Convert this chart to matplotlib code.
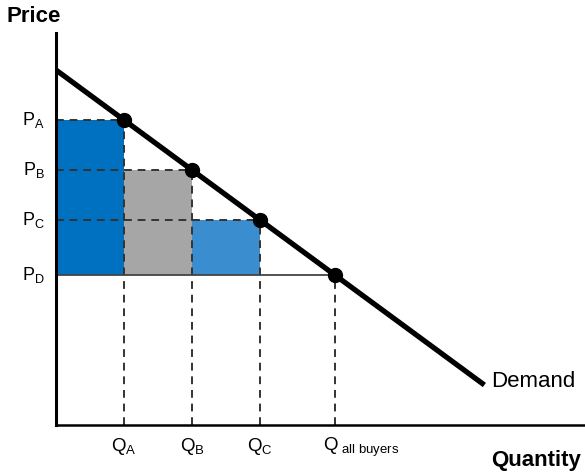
import matplotlib
matplotlib.use("Agg")
import matplotlib.pyplot as plt

plt.rcParams['font.family'] = ['Liberation Sans', 'DejaVu Sans']
plt.rcParams['mathtext.fontset'] = 'custom'
plt.rcParams['mathtext.rm'] = 'Liberation Sans'
plt.rcParams['mathtext.it'] = 'Liberation Sans'

# Data
quantities = [1.0, 2.0, 3.0, 4.1]
prices = [6.1, 5.1, 4.1, 3.0]
q_labels = [r'Q$_\mathrm{A}$', r'Q$_\mathrm{B}$', r'Q$_\mathrm{C}$', r'Q$_\mathrm{\ all\ buyers}$']
p_labels = [r'P$_\mathrm{A}$', r'P$_\mathrm{B}$', r'P$_\mathrm{C}$', r'P$_\mathrm{D}$']
demand_q = [0.0, 6.3]
demand_p = [7.1, 0.8]
fill_colors = ['#0070C0', '#A6A6A6', '#3A8ED0']

W, H = 585, 473
fig = plt.figure(figsize=(W / 100, H / 100), dpi=100)
ax = fig.add_axes([56 / W, (H - 425) / H, 528 / W, 392 / H])
ax.set_xlim(0, 528 / 68)
ax.set_ylim(0, 392 / 50)

# Filled rectangles
pd_ = prices[-1]
left = 0.0
for i in range(3):
    ax.fill_between([left, quantities[i]], pd_, prices[i], color=fill_colors[i], lw=0, zorder=1)
    left = quantities[i]

# Dashed guide lines
for i in range(3):
    ax.plot([0, quantities[i]], [prices[i], prices[i]], ls=(0, (4, 3)), color='#333333', lw=1.4, zorder=2)
for q, p in zip(quantities, prices):
    ax.plot([q, q], [0, p], ls=(0, (4, 3)), color='#333333', lw=1.4, zorder=2)
ax.plot([0, quantities[-1]], [pd_, pd_], color='#444444', lw=1.3, zorder=2)

# Demand line
ax.plot(demand_q, demand_p, color='black', lw=3.8, solid_capstyle='butt', zorder=3)
ax.plot(quantities, prices, 'o', color='black', ms=10, zorder=4)
ax.text(6.4, 0.87, 'Demand', fontsize=16, ha='left', va='center')

# Axes styling
for s in ['top', 'right']:
    ax.spines[s].set_visible(False)
ax.spines['left'].set_linewidth(2.2)
ax.spines['bottom'].set_linewidth(1.8)
ax.set_xticks([])
ax.set_yticks([])

for p, lab in zip(prices, p_labels):
    ax.text(-11 / 68, p, lab, fontsize=13, ha='right', va='center')
for q, lab in zip(quantities, q_labels):
    if 'all' in lab:
        ax.text(q - 12 / 68, -11 / 50, lab, fontsize=13.5, ha='left', va='top')
    else:
        ax.text(q, -11 / 50, lab, fontsize=13.5, ha='center', va='top')

fig.text(7 / W, 1 - 16 / H, 'Price', fontsize=16, fontweight='bold', ha='left', va='center')
fig.text(581 / W, 1 - 460 / H, 'Quantity', fontsize=16, fontweight='bold', ha='right', va='center')

fig.savefig('out.png', dpi=100)
